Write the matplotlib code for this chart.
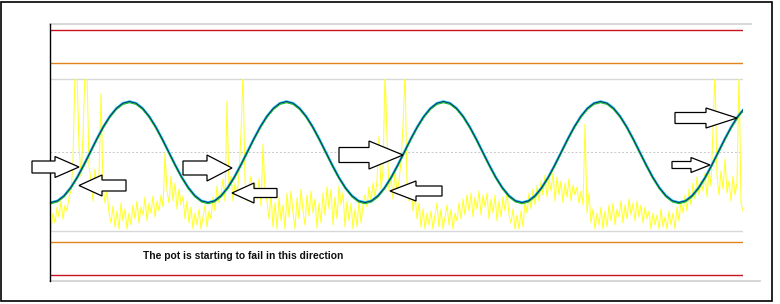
import matplotlib
matplotlib.use('Agg')
import matplotlib.pyplot as plt
import numpy as np
from matplotlib.patches import Rectangle, FancyArrow

# pot position trace (24 samples per cycle)
pot = [-50.5, -48.8, -43.7, -35.7, -25.3, -13.1, 0.0, 13.1, 25.3, 35.7, 43.7, 48.8,
       50.5, 48.8, 43.7, 35.7, 25.3, 13.1, 0.0, -13.1, -25.3, -35.7, -43.7, -48.8,
       -50.5, -48.8, -43.7, -35.7, -25.3, -13.1, 0.0, 13.1, 25.3, 35.7, 43.7, 48.8,
       50.5, 48.8, 43.7, 35.7, 25.3, 13.1, 0.0, -13.1, -25.3, -35.7, -43.7, -48.8,
       -50.5, -48.8, -43.7, -35.7, -25.3, -13.1, 0.0, 13.1, 25.3, 35.7, 43.7, 48.8,
       50.5, 48.8, 43.7, 35.7, 25.3, 13.1, 0.0, -13.1, -25.3, -35.7, -43.7, -48.8,
       -50.5, -48.8, -43.7, -35.7, -25.3, -13.1, 0.0, 13.1, 25.3, 35.7, 43.7, 48.8,
       50.5, 48.8, 43.7, 35.7, 25.3, 13.1, 0.0, -13.1, -25.3, -35.7, -43.7, -48.8,
       -50.5, -48.8, -43.7, -35.7, -25.3, -13.1, 0.0, 13.1, 25.3, 35.7, 43.7]

# noise channel, height above the lower band edge (>152 runs off the top)
noise = [2, 18, 8, 24, 14, 30, 12, 26, 20, 34,
         40, 70, 160, 160, 85, 55, 95, 160, 160, 65,
         50, 30, 62, 38, 55, 137, 45, 28, 40, 18,
         8, 25, 4, 20, 2, 28, 10, 22, 2, 18,
         6, 26, 12, 30, 8, 24, 16, 34, 10, 28,
         18, 35, 14, 30, 20, 36, 24, 78, 40, 28,
         55, 30, 48, 22, 42, 26, 35, 12, 30, 8,
         24, 2, 18, 6, 22, 2, 14, 26, 4, 20,
         12, 34, 20, 45, 28, 38, 52, 30, 130, 42,
         55, 30, 48, 36, 58, 98, 160, 50, 30, 44,
         55, 28, 48, 32, 52, 25, 87, 40, 30, 12,
         36, 4, 28, 2, 34, 10, 26, 2, 38, 14,
         40, 18, 2, 33, 12, 42, 20, 6, 36, 15,
         40, 18, 32, 3, 28, 8, 38, 16, 44, 22,
         42, 6, 34, 12, 45, 26, 38, 4, 30, 10,
         28, 2, 22, 4, 30, 8, 26, 36, 24, 44,
         30, 48, 34, 50, 95, 42, 60, 160, 95, 40,
         55, 32, 62, 38, 50, 70, 105, 160, 45, 30,
         48, 20, 36, 12, 28, 4, 22, 2, 18, 6,
         20, 2, 16, 28, 4, 22, 2, 14, 26, 6,
         22, 2, 18, 10, 28, 12, 32, 16, 36, 20,
         38, 14, 34, 22, 40, 16, 36, 24, 38, 12,
         32, 18, 36, 10, 30, 14, 34, 20, 40, 16,
         8, 22, 2, 16, 2, 20, 4, 30, 18, 38,
         22, 42, 26, 45, 30, 50, 36, 56, 34, 52,
         40, 58, 30, 54, 36, 50, 28, 48, 34, 52,
         30, 46, 36, 44, 28, 40, 26, 107, 18, 38,
         8, 22, 2, 18, 6, 24, 2, 20, 4, 26,
         10, 28, 6, 22, 14, 30, 8, 26, 12, 32,
         16, 28, 10, 30, 14, 26, 8, 24, 12, 20,
         2, 18, 6, 16, 2, 22, 4, 14, 2, 20,
         6, 18, 2, 24, 10, 30, 18, 36, 20, 42,
         26, 48, 32, 54, 36, 50, 40, 58, 34, 60,
         45, 102, 160, 55, 36, 60, 42, 72, 38, 50,
         30, 55, 36, 48, 160, 28, 20]

red_lim = [122, -123]
orange_lim = [89, -90]
band = [73, -79]

# annotation arrows: (tail, tip, y, shaft width, head width, head length)
arrows = [(-18, 29, -15, 12, 21, 24),
          (76, 29, -33.5, 11, 21, 23),
          (133, 182, -16, 14, 26, 25),
          (227, 182, -41, 9, 20, 22),
          (289, 353, -3, 15, 28, 34),
          (392, 340, -39, 10, 20, 26),
          (625, 687, 34, 11, 20, 31),
          (622, 660, -13, 7, 15, 19)]

fig = plt.figure(figsize=(7.8, 3.04), dpi=100)
ax = fig.add_axes([50/780, 23/304, 693/780, 257/304])
ax.set_xlim(0, 693)
ax.set_ylim(-129, 128)
for s in ['top', 'right', 'bottom']:
    ax.spines[s].set_visible(False)
ax.spines['left'].set_color('black')
ax.spines['left'].set_linewidth(1.0)
ax.set_xticks([])
ax.set_yticks([])

# frame lines
ax.plot([0, 701], [128, 128], color='#cfcfcf', lw=1.2, clip_on=False)
ax.plot([0, 710], [-129, -129], color='#cfcfcf', lw=1.2, clip_on=False)
for v in band:
    ax.plot([0, 693], [v, v], color='#d8d8d8', lw=1.0)
ax.plot([0, 693], [0, 0], color='#c8c8c8', lw=0.7, linestyle=(0, (2, 2)))
for v in red_lim:
    ax.plot([0, 693], [v, v], color='#c8141e', lw=1.0)
for v in orange_lim:
    ax.plot([0, 693], [v, v], color='#e0841c', lw=1.0)

# noise trace, clipped to its band
tn = 1 + 2 * np.arange(len(noise))
yn = np.array(noise) + band[1]
ln, = ax.plot(tn, yn, color='#ffff30', lw=0.75)
clip = Rectangle((0, band[1]), 693, band[0] - band[1], transform=ax.transData)
ln.set_clip_path(clip)

# pot trace
tp = 1 + (157 / 24) * np.arange(len(pot))
yp = np.array(pot)
ax.plot(tp, yp, color='#18c8f0', lw=1.8)
ax.plot(tp, yp - 1.2, color='#22c022', lw=0.8)
ax.plot(tp, yp, color='#102060', lw=0.65)

for tail, tip, y, w, hw, hl in arrows:
    a = FancyArrow(tail, y, tip - tail, 0, width=w, head_width=hw, head_length=hl,
                   length_includes_head=True, fc='white', ec='black', lw=0.9,
                   clip_on=False, zorder=5)
    ax.add_patch(a)

ax.text(93, -104, 'The pot is starting to fail in this direction', fontsize=7.4,
        fontweight='bold', family='Liberation Sans', color='#101010',
        va='center', ha='left')

fig.add_artist(Rectangle((1/780, 3/304), 771/780, 299/304, transform=fig.transFigure,
                         fill=False, ec='black', lw=1.2))

plt.savefig('out.png', dpi=100)
